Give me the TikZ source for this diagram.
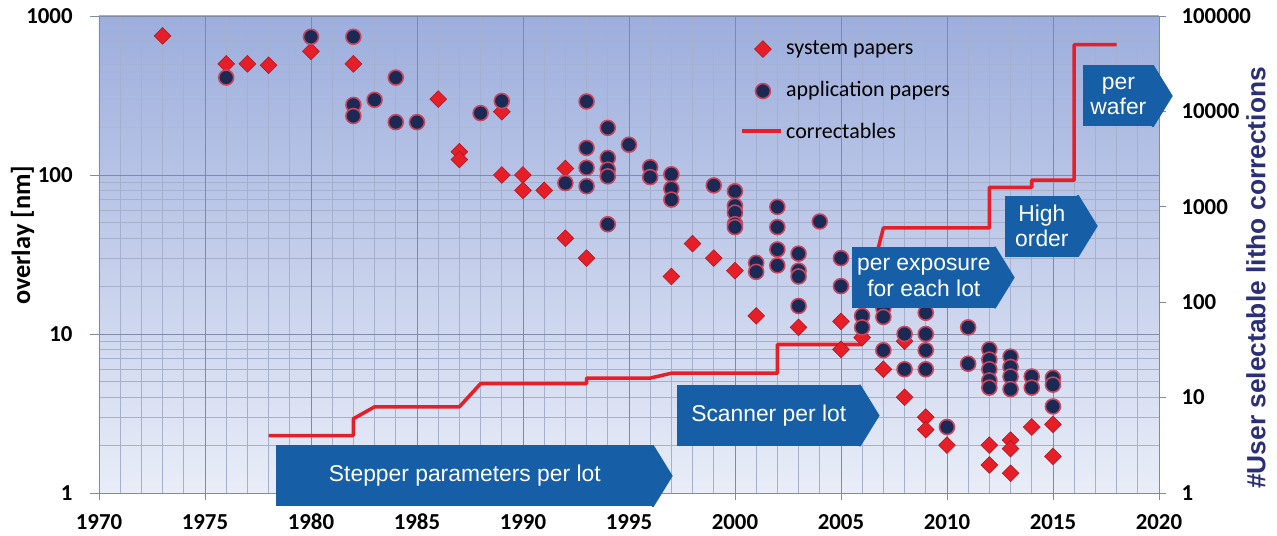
\documentclass[tikz,border=0pt]{standalone}
\usepackage{fontspec}
\setmainfont{Carlito}
\newfontfamily\boxfont{Liberation Sans}
\usetikzlibrary{shapes.geometric}

\definecolor{sysred}{RGB}{230,30,40}
\definecolor{appnavy}{RGB}{27,42,85}
\definecolor{apprim}{RGB}{200,70,95}
\definecolor{boxblue}{RGB}{22,95,167}
\definecolor{titlenavy}{RGB}{42,47,120}
\definecolor{plottop}{RGB}{157,174,221}
\definecolor{plotbottom}{RGB}{233,237,248}
\definecolor{gridmajor}{RGB}{128,138,165}
\definecolor{gridminor}{RGB}{165,176,205}

\tikzset{
  sysmark/.style={diamond, fill=sysred, draw=sysred!75!black, line width=0.3pt, inner sep=0pt, minimum size=0.34cm},
  appmark/.style={circle, fill=appnavy, draw=apprim, line width=0.9pt, inner sep=0pt, minimum size=0.3cm},
  corrline/.style={sysred, line width=2pt, line join=round},
  ticklabel/.style={font=\fontsize{13}{15}\selectfont\bfseries, inner sep=0pt},
  legendtext/.style={font=\fontsize{12.5}{14}\selectfont, anchor=west, inner sep=0pt},
  bluebox/.style={fill=boxblue, text=white, font=\boxfont\fontsize{13}{14.5}\selectfont, align=center, minimum height=1.22cm, inner sep=0pt, anchor=west}
}

\begin{document}
\begin{tikzpicture}[x=0.424cm, y=3.18cm]
  % one unit = one year across, one decade of overlay up
  \useasboundingbox (-4.67,-0.2704) rectangle (55.57,3.1006);

  % plot area and grid
  \shade[top color=plottop, bottom color=plotbottom] (0,0) rectangle (50,3);
  \foreach \x in {1,...,49}
    \draw[gridminor, line width=0.4pt] (\x,0) -- (\x,3);
  \foreach \d/\op in {0/1,1/1,2/0.3}
    \foreach \m in {2,...,9}
      \draw[gridminor, line width=0.4pt, opacity=\op] (0,{\d+log10(\m)}) -- (50,{\d+log10(\m)});
  \foreach \x in {0,5,...,50}
    \draw[gridmajor, line width=0.5pt] (\x,-0.044) -- (\x,3);
  \foreach \d in {0,...,3}
    \draw[gridmajor, line width=0.5pt] (-0.42,\d) -- (50,\d);

  % axis labels
  \foreach \x [evaluate=\x as \yr using int(1970+\x)] in {0,5,...,50}
    \node[ticklabel] (yr\x) at (\x,-0.182) {\yr};
  \foreach \d/\lab in {0/1,1/10,2/100,3/1000}
    \node[ticklabel, anchor=east] (left\d) at (-1.23,\d) {\lab};
  \node[rotate=90, font=\fontsize{15}{17}\selectfont\bfseries] (ytitle) at (-3.6,1.62) {overlay [nm]};

  \begin{scope}[yscale=0.6]
    % right axis: number of corrections
    \foreach \d/\lab in {0/1,1/10,2/100,3/1000,4/10000,5/100000} {
      \draw[gridmajor, line width=0.5pt] (50,\d) -- (50.35,\d);
      \node[ticklabel, anchor=west] (right\d) at (51.05,\d) {\lab};
    }
    \draw[corrline] (8,{log10(4)}) -- (12,{log10(4)}) -- (12,{log10(6)}) -- (13,{log10(8)})
      -- (17,{log10(8)}) -- (18,{log10(14)}) -- (23,{log10(14)}) -- (23,{log10(16)})
      -- (26,{log10(16)}) -- (27,{log10(18)}) -- (32,{log10(18)}) -- (32,{log10(36)})
      -- (36,{log10(36)}) -- (36,{log10(80)}) -- (37,{log10(600)}) -- (42,{log10(600)})
      -- (42,{log10(1600)}) -- (44,{log10(1600)}) -- (44,{log10(1900)}) -- (46,{log10(1900)})
      -- (46,{4+log10(5)}) -- (48,{4+log10(5)});
  \end{scope}
  \node[rotate=90, font=\boxfont\fontsize{15}{17}\selectfont\bfseries, text=titlenavy] (y2title) at (54.58,1.352) {\#User selectable litho corrections};

  % system papers
  \foreach \yr/\v [count=\i] in {1973/750, 1976/500, 1977/500, 1978/490, 1980/600, 1982/500,
      1986/300, 1987/140, 1987/125, 1989/250, 1989/100, 1990/100, 1990/80, 1991/80, 1992/110,
      1992/40, 1993/30, 1997/23, 1998/37, 1999/30, 2000/25, 2001/13, 2003/11, 2005/12, 2005/8,
      2006/9.5, 2007/6, 2008/9, 2008/4, 2009/3, 2009/2.5, 2010/2, 2012/2, 2012/1.5, 2013/2.15,
      2013/1.9, 2013/1.33, 2014/2.6, 2015/2.7, 2015/1.7}
    \node[sysmark] (sys\i) at ({\yr-1970},{log10(\v)}) {};

  % application papers
  \foreach \yr/\v [count=\i] in {1976/410, 1980/740, 1982/740, 1982/276, 1982/235, 1983/297,
      1984/410, 1984/215, 1985/215, 1988/245, 1989/292, 1992/89, 1993/290, 1993/148, 1993/111,
      1993/85, 1994/198, 1994/128, 1994/108, 1994/98, 1994/49, 1995/155, 1996/112, 1996/97,
      1997/101, 1997/82, 1997/70, 1999/86, 2000/79, 2000/64, 2000/58, 2000/49, 2000/47,
      2001/28, 2001/24.6, 2002/63, 2002/47, 2002/34, 2002/27, 2003/32, 2003/25, 2003/23,
      2003/15, 2004/51, 2005/30, 2005/20, 2006/13, 2006/11, 2007/14.6, 2007/12.8, 2007/7.9,
      2008/10, 2008/6, 2009/13.6, 2009/10, 2009/7.9, 2009/6, 2010/2.6, 2011/11, 2011/6.5,
      2012/8, 2012/6.9, 2012/6, 2012/5.1, 2012/4.6, 2013/7.2, 2013/6.2, 2013/5.4, 2013/4.5,
      2014/5.4, 2014/4.6, 2015/5.3, 2015/4.8, 2015/3.5}
    \node[appmark] (app\i) at ({\yr-1970},{log10(\v)}) {};

  % legend
  \node[sysmark] (legsys) at (31.32,2.792) {};
  \node[legendtext] (legsystext) at (32.4,2.792) {system papers};
  \node[appmark] (legapp) at (31.32,2.528) {};
  \node[legendtext] (legapptext) at (32.4,2.528) {application papers};
  \coordinate (legA) at (30.33,2.277);
  \coordinate (legB) at (32.17,2.277);
  \draw[corrline] (legA) -- (legB);
  \node[legendtext] (legcorrtext) at (32.4,2.277) {correctables};

  % correction levels
  \node[bluebox, minimum width=7.54cm] (stepper) at (8.35,0.107) {Stepper parameters per lot};
  \node[bluebox, minimum width=3.66cm] (scanner) at (27.26,0.487) {Scanner per lot};
  \node[bluebox, minimum width=2.86cm] (exposure) at (35.52,1.355) {per exposure\\for each lot};
  \node[bluebox, minimum width=1.46cm] (highorder) at (42.74,1.679) {High\\order};
  \node[bluebox, minimum width=1.40cm] (wafer) at (46.42,2.497) {per\\wafer};
  \foreach \n in {stepper,scanner,exposure,highorder,wafer}
    \fill[boxblue] ([xshift=-1pt]\n.north east) -- (\n.north east) -- ([xshift=0.38cm]\n.east)
      -- (\n.south east) -- ([xshift=-1pt]\n.south east) -- cycle;
\end{tikzpicture}
\end{document}
